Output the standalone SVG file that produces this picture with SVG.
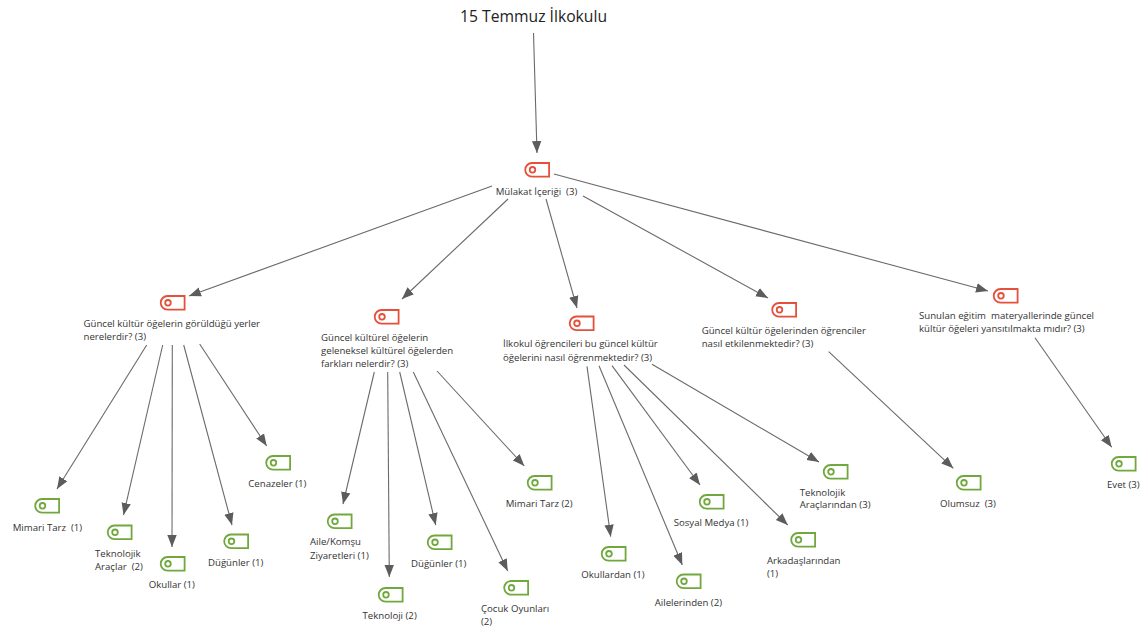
<svg xmlns="http://www.w3.org/2000/svg" width="1145" height="626" viewBox="0 0 1145 626">
<style>
text{font-family:"Open Sans","Noto Sans","Liberation Sans",sans-serif;font-size:9.65px;fill:#333;white-space:pre}
.t{font-size:15.7px;fill:#222}
.e{stroke:#6a6a6a;stroke-width:1.1;fill:none;marker-end:url(#a)}
.r{stroke:#e5503a}.g{stroke:#70a83e}
.i{fill:#fff;stroke-width:1.8}
</style>
<defs>
<marker id="a" markerUnits="userSpaceOnUse" markerWidth="13" markerHeight="11" refX="12" refY="5.5" orient="auto"><path d="M0,0.8L12,5.5L0,10.2Z" fill="#5c5c5c"/></marker>
<g id="tag"><path d="M7.5,1H24.6V14.6H7.5A6.8,6.8 0 0 1 7.5,1Z"/><circle cx="8" cy="7.8" r="2.8"/></g>
</defs>
<g id="connectors">
<path class="e" d="M533.5,33L537,153"/>
<path class="e" d="M492,186L189,296"/>
<path class="e" d="M508,199L402,299"/>
<path class="e" d="M546,199L577,308"/>
<path class="e" d="M583,196L768,298"/>
<path class="e" d="M554,174L988,291"/>
<path class="e" d="M146.7,345L57,489"/>
<path class="e" d="M162.7,345L123.5,515"/>
<path class="e" d="M172.3,345L172,547"/>
<path class="e" d="M183.7,345L232,525"/>
<path class="e" d="M199.7,344L266.7,446"/>
<path class="e" d="M374.3,372L343,504"/>
<path class="e" d="M387.7,372L389.3,577"/>
<path class="e" d="M399.7,372L435.7,525"/>
<path class="e" d="M413.3,372L507.7,571"/>
<path class="e" d="M437,371L524.3,466"/>
<path class="e" d="M587,366.3L610.7,536.7"/>
<path class="e" d="M599,365.7L682.3,565"/>
<path class="e" d="M612,365.7L700,485"/>
<path class="e" d="M624,365L787.7,525"/>
<path class="e" d="M652,364.3L819,462"/>
<path class="e" d="M828.7,351.7L953.3,468.3"/>
<path class="e" d="M1035,337.7L1111.7,447.3"/>
</g>
<g id="n0"><text class="t" x="460" y="22">15 Temmuz İlkokulu</text></g>
<g id="n1"><use href="#tag" x="524.5" y="162" class="i r"/><text x="495.7" y="194.5">Mülakat İçeriği  (3)</text></g>
<g id="n2"><use href="#tag" x="160" y="295" class="i r"/><text x="83.5" y="326.7">Güncel kültür öğelerin görüldüğü yerler</text><text x="83.5" y="339.7">nerelerdir? (3)</text></g>
<g id="n3"><use href="#tag" x="374" y="309" class="i r"/><text x="321" y="340.7">Güncel kültürel öğelerin</text><text x="321" y="354">geleneksel kültürel öğelerden</text><text x="321" y="367.4">farkları nelerdir? (3)</text></g>
<g id="n4"><use href="#tag" x="569" y="315.5" class="i r"/><text x="503" y="347.4">İlkokul öğrencileri bu güncel kültür</text><text x="503" y="360.7">öğelerini nasıl öğrenmektedir? (3)</text></g>
<g id="n5"><use href="#tag" x="771.5" y="302" class="i r"/><text x="701.7" y="334">Güncel kültür öğelerinden öğrenciler</text><text x="701.7" y="347.4">nasıl etkilenmektedir? (3)</text></g>
<g id="n6"><use href="#tag" x="993" y="288" class="i r"/><text x="919" y="319.4">Sunulan eğitim  materyallerinde güncel</text><text x="919" y="332.4">kültür öğeleri yansıtılmakta mıdır? (3)</text></g>
<g id="n7"><use href="#tag" x="34.5" y="498" class="i g"/><text x="12.7" y="530.7">Mimari Tarz  (1)</text></g>
<g id="n8"><use href="#tag" x="107" y="524.5" class="i g"/><text x="95" y="556.7">Teknolojik</text><text x="95" y="569.7">Araçlar  (2)</text></g>
<g id="n9"><use href="#tag" x="160" y="556" class="i g"/><text x="148.7" y="587.7">Okullar (1)</text></g>
<g id="n10"><use href="#tag" x="223.5" y="533.5" class="i g"/><text x="208" y="565.7">Düğünler (1)</text></g>
<g id="n11"><use href="#tag" x="265.5" y="455" class="i g"/><text x="248.3" y="486.7">Cenazeler (1)</text></g>
<g id="n12"><use href="#tag" x="327" y="513.5" class="i g"/><text x="310" y="545.4">Aile/Komşu</text><text x="310" y="558.7">Ziyaretleri (1)</text></g>
<g id="n13"><use href="#tag" x="378" y="587" class="i g"/><text x="362.5" y="618.7">Teknoloji (2)</text></g>
<g id="n14"><use href="#tag" x="427" y="534.5" class="i g"/><text x="411" y="566.7">Düğünler (1)</text></g>
<g id="n15"><use href="#tag" x="503.5" y="580" class="i g"/><text x="481" y="612.4">Çocuk Oyunları</text><text x="481" y="624.7">(2)</text></g>
<g id="n16"><use href="#tag" x="527" y="475" class="i g"/><text x="505.7" y="506.7">Mimari Tarz (2)</text></g>
<g id="n17"><use href="#tag" x="601" y="546" class="i g"/><text x="581.3" y="577.7">Okullardan (1)</text></g>
<g id="n18"><use href="#tag" x="676" y="573.5" class="i g"/><text x="654.7" y="605.7">Ailelerinden (2)</text></g>
<g id="n19"><use href="#tag" x="699" y="494" class="i g"/><text x="673.7" y="525.7">Sosyal Medya (1)</text></g>
<g id="n20"><use href="#tag" x="790.5" y="532" class="i g"/><text x="767" y="563.7">Arkadaşlarından</text><text x="767" y="577.4">(1)</text></g>
<g id="n21"><use href="#tag" x="823" y="464" class="i g"/><text x="799.7" y="495.7">Teknolojik</text><text x="799.7" y="508.4">Araçlarından (3)</text></g>
<g id="n22"><use href="#tag" x="956" y="475" class="i g"/><text x="940" y="506.7">Olumsuz  (3)</text></g>
<g id="n23"><use href="#tag" x="1111" y="456" class="i g"/><text x="1107" y="487.7">Evet (3)</text></g>
</svg>
